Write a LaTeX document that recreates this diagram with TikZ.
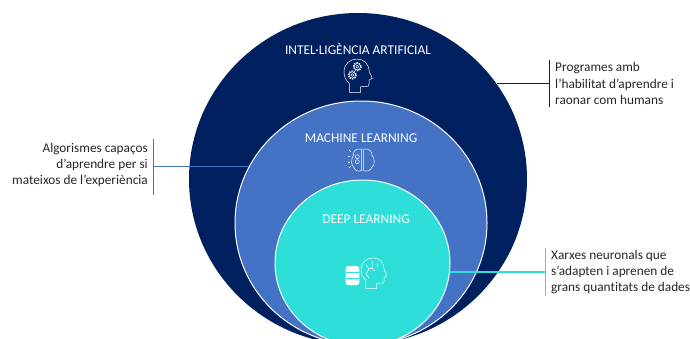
\documentclass[tikz,border=0pt]{standalone}
\usepackage{fontspec}
\setmainfont[Ligatures=NoCommon]{Carlito}
\usetikzlibrary{shapes.geometric}
\definecolor{navyai}{HTML}{002060}
\definecolor{bluems}{HTML}{4472C4}
\definecolor{cyandl}{HTML}{2EDFD9}
\definecolor{textgrey}{HTML}{262626}
\tikzset{ball/.style={ellipse, inner sep=0pt}}
\tikzset{AI/.style={ball, fill=navyai, minimum width=338pt, minimum height=332pt}}
\tikzset{ML/.style={ball, fill=bluems, draw=white, line width=1pt, minimum width=252pt, minimum height=244pt}}
\tikzset{DL/.style={ball, fill=cyandl, draw=white, line width=1pt, minimum width=175pt, minimum height=166pt}}
\tikzset{title/.style={white, font=\fontsize{13.4}{15}\selectfont}}
\tikzset{note/.style={textgrey, inner sep=0pt, font=\fontsize{13.3}{16.2}\selectfont}}
\tikzset{icon/.style={white, line width=0.5pt, line join=round}}
\tikzset{bar/.style={line width=1.1pt}}
\tikzset{head/.pic={
\draw[icon] (5.3,34.3) -- (5.3,25.5) .. controls (1.5,22) and (0,18) .. (0,13.7) .. controls (0,6) and (6,1) .. (13,1) .. controls (20,1) and (25,6) .. (25.2,13.5) -- (28.3,20.3) -- (25.2,22) -- (25,26) .. controls (25,28) and (24,28.7) .. (22,28.7) -- (16.7,28.7) -- (16.7,34.3) -- cycle;
}}
\tikzset{gear/.pic={
\draw[icon] (0,0) circle (1.5);
\draw[icon] (0,0) circle (3.2);
\draw[icon, line width=1.2pt, dash pattern=on 1.3pt off 1.2pt] (0,0) circle (4);
}}
\tikzset{disc/.style={fill=white, rounded corners=2.5pt}}
\tikzset{discgap/.style={cyandl, line width=0.7pt}}

\begin{document}
\begin{tikzpicture}[x=1pt, y=-1pt]
\useasboundingbox (0,0) rectangle (690,338);
\clip (0,0) rectangle (690,338);
\node[AI] (ai) at (358,179) {};
\node[ML] (ml) at (361,223) {};
\node[DL] (dl) at (362.5,263) {};
\node[title] (aititle) at (358,49) {INTEL·LIGÈNCIA ARTIFICIAL};
\node[title] (mltitle) at (361,138) {MACHINE LEARNING};
\node[title] (dltitle) at (366,219) {DEEP LEARNING};
\node[note, anchor=west, align=left] (ainote) at (555,83.5) {Programes amb\\l’habilitat d’aprendre i\\raonar com humans};
\node[note, anchor=east, align=right] (mlnote) at (148,165) {Algorismes capaços\\d’aprendre per si\\mateixos de l’experiència};
\node[note, anchor=west, align=left] (dlnote) at (551,272) {Xarxes neuronals que\\s’adapten i aprenen de\\grans quantitats de dades};
\coordinate (aibar) at (549.5,83.5);
\coordinate (aiedge) at (497,83.5);
\coordinate (mlbar) at (153.5,166.7);
\coordinate (mledge) at (249,166.7);
\coordinate (dlbar) at (545.5,272);
\coordinate (dledge) at (450,272);
\draw[bar, navyai] (aiedge) to (aibar);
\draw[bar, navyai] (549.5,60) to (549.5,107);
\draw[bar, bluems] (mledge) to (mlbar);
\draw[bar, bluems] (153.5,139) to (153.5,195);
\draw[bar, cyandl] (dledge) to (dlbar);
\draw[bar, cyandl] (545.5,248) to (545.5,296);
\path (344,58) pic {head};
\path (357.3,66.7) pic {gear};
\path (352.3,75) pic {gear};
\path (361,257) pic[scale=0.92] {head};
\draw[icon] (366,265) -- (369,269) -- (366,274) -- (369,278);
\draw[icon] (372,261) -- (372,268) -- (375,271);
\draw[icon] (377,263) -- (377,267);
\draw[icon] (369,269) -- (372,268);
\fill[disc] (345.7,266) rectangle (359.3,285);
\draw[discgap] (345.7,272) to (359.3,272);
\draw[discgap] (345.7,278.5) to (359.3,278.5);
\draw[icon] (361.5,149) .. controls (355,148) and (353,152) .. (353.5,155) .. controls (351,159) and (351,165) .. (353.5,167) .. controls (355,171) and (359,172) .. (361.5,170.5) -- cycle;
\draw[icon] (363.5,149) .. controls (370,148) and (372,152) .. (372,155) .. controls (375,159) and (375,165) .. (372,167) .. controls (371,171) and (366,172) .. (363.5,170.5) -- cycle;
\draw[icon] (357.3,156.7) circle (2);
\draw[icon] (357.3,161.7) circle (2);
\draw[icon] (349,150) -- (351,152);
\draw[icon] (348,156) -- (350,157);
\draw[icon] (348,162) -- (350,162);
\draw[icon] (349,168) -- (351,166);
\end{tikzpicture}
\end{document}
